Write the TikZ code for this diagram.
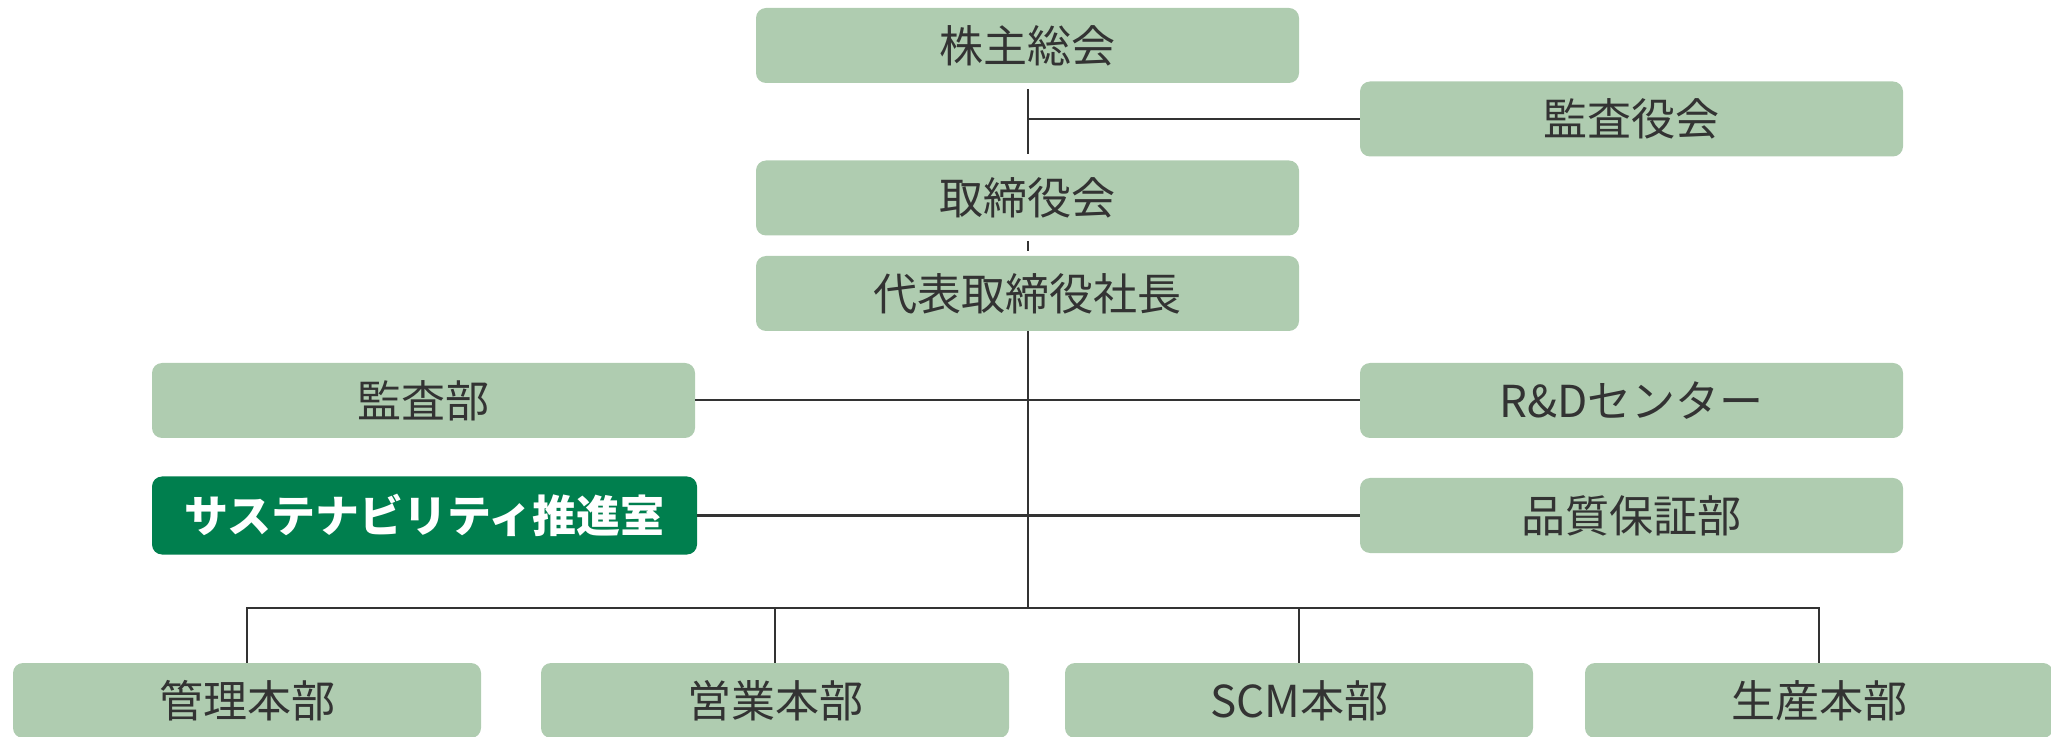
\documentclass[tikz,border=0pt]{standalone}
\usepackage{fontspec}
\setmainfont{Noto Sans CJK JP}
\usetikzlibrary{calc}
\definecolor{boxgreen}{HTML}{AFCCB0}
\definecolor{darkgreen}{HTML}{007F4E}
\definecolor{txtgray}{HTML}{333333}
\definecolor{linegray}{HTML}{333333}
\begin{document}
\begin{tikzpicture}[x=0.5pt,y=-0.5pt,
  box/.style={fill=boxgreen,rounded corners=5pt,minimum width=271.5pt,minimum height=37.5pt,inner sep=0pt,text=txtgray,font=\fontsize{22}{26}\selectfont},
  lowbox/.style={box,minimum width=234pt},
  keybox/.style={box,fill=darkgreen,text=white,minimum width=272.5pt,minimum height=39pt,font=\fontsize{22}{26}\selectfont\bfseries},
  conn/.style={draw=linegray,line width=1pt}]
\useasboundingbox (0,0) rectangle (2051,737);
\clip (0,0) rectangle (2051,737);
% nodes
\node[box] (sh) at (1027.5,45.5) {株主総会};
\node[box] (kyk) at (1631.5,119) {監査役会};
\node[box] (tr) at (1027.5,198) {取締役会};
\node[box] (ceo) at (1027.5,293.5) {代表取締役社長};
\node[box] (audit) at (423.5,400.5) {監査部};
\node[box] (rd) at (1631.5,400.5) {R\&Dセンター};
\node[keybox] (sus) at (424.5,515.5) {サステナビリティ推進室};
\node[box] (qa) at (1631.5,515.5) {品質保証部};
\node[lowbox] (kanri) at (247,700.5) {管理本部};
\node[lowbox] (eigyo) at (775,700.5) {営業本部};
\node[lowbox] (scm) at (1299,700.5) {SCM本部};
\node[lowbox] (seisan) at (1819,700.5) {生産本部};
\coordinate (bus) at (1027.5,608);
% connectors
\draw[conn,shorten <=3pt,shorten >=3pt] (sh.south) -- (tr.north);
\draw[conn] (kyk.west) -- (kyk.west -| sh.south);
\draw[conn,shorten <=2.5pt,shorten >=2.5pt] (tr.south) -- (ceo.north);
\draw[conn] (ceo.south) -- (bus);
\draw[conn] (audit.east) -- (rd.west);
\draw[conn] (sus.east) -- (qa.west);
\draw[conn] (kanri.north) -- (kanri.north |- bus) -- (seisan.north |- bus) -- (seisan.north);
\draw[conn] (eigyo.north) -- (eigyo.north |- bus);
\draw[conn] (scm.north) -- (scm.north |- bus);
\end{tikzpicture}
\end{document}
